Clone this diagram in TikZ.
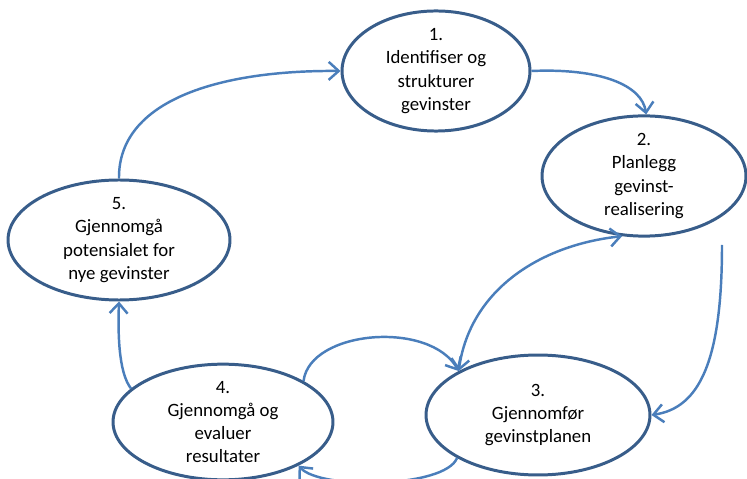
\documentclass[tikz,border=0pt]{standalone}
\usepackage{fontspec}
\setmainfont{Carlito}
\usetikzlibrary{shapes.geometric, arrows.meta}

\definecolor{rimblue}{HTML}{385D8A}
\definecolor{flowblue}{HTML}{4A7EBB}

\begin{document}
\begin{tikzpicture}[
    x=0.02cm, y=-0.02cm,
    stage/.style={draw=rimblue, line width=1.7pt, ellipse, fill=white,
                  align=center, inner sep=0pt,
                  font=\fontsize{10.7}{13.2}\selectfont},
    flow/.style={draw=flowblue, line width=1.4pt},
    tip/.style={-{Straight Barb[length=2mm, width=3.6mm]}},
]
\useasboundingbox (0, 0) rectangle (747, 479);

% =================================================================
%  STAGES
% =================================================================
\node[stage, minimum width=3.76cm, minimum height=2.32cm] (s1) at (436, 71)
    {1.\\ Identifiser og\\ strukturer\\ gevinster};
\node[stage, minimum width=4.08cm, minimum height=2.40cm] (s2) at (644, 176)
    {2.\\ Planlegg\\ gevinst-\\ realisering};
\node[stage, minimum width=4.48cm, minimum height=2.40cm] (s3) at (538, 415)
    {3.\\ Gjennomfør\\ gevinstplanen};
\node[stage, minimum width=4.40cm, minimum height=2.20cm] (s4) at (223, 422)
    {4.\\ Gjennomgå og\\ evaluer\\ resultater};
\node[stage, minimum width=4.44cm, minimum height=2.32cm] (s5) at (119, 240)
    {5.\\ Gjennomgå\\ potensialet for\\ nye gevinster};

% =================================================================
%  CYCLE
% =================================================================
\draw[flow, tip] (s5.north) .. controls (118, 100) and (220, 70) .. (s1.west);
\draw[flow, tip] (s1.east) .. controls (600, 68) and (642, 85) .. (s2.88);

\coordinate (s2out) at (722, 245);
\draw[flow, tip] (s2out) .. controls (722, 360) and (700, 408) .. (s3.east);

% s2 <-> s3
\draw[flow, {Straight Barb[length=2mm, width=3.6mm]}-{Straight Barb[length=2mm, width=3.6mm]}]
    (s3.151) .. controls (470, 290) and (540, 245) .. (s2.250);

% loop between s4 and s3
\draw[flow, tip] (s4.27) .. controls (310, 330) and (430, 320) .. (s3.151);
\draw[flow, tip] (s3.208) .. controls (445, 488) and (320, 490) .. (s4.330);

% s4 -> s5
\draw[flow, tip] (s4.160) .. controls (118, 372) and (118, 330) .. (s5.south);

\end{tikzpicture}
\end{document}
